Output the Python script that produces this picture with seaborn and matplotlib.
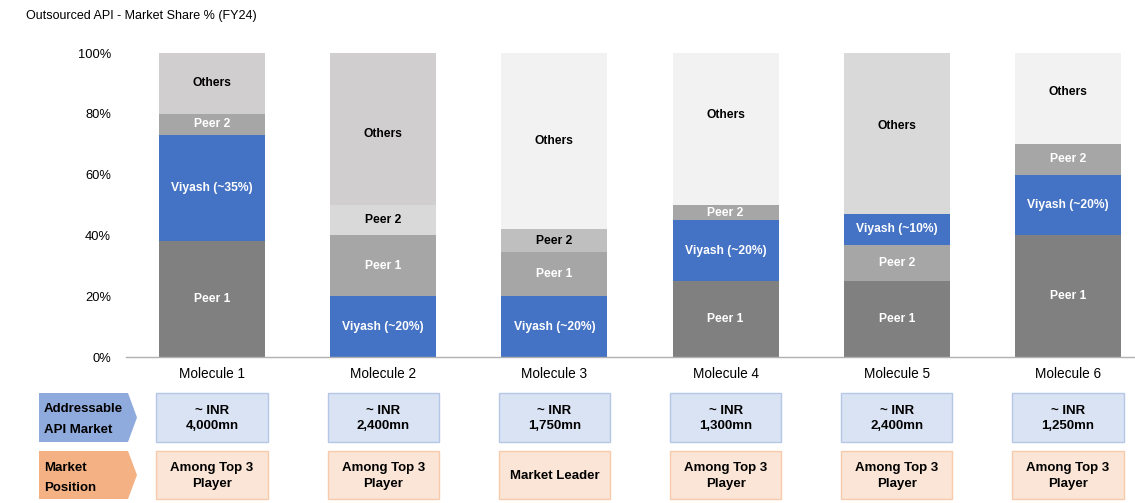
import numpy as np
import pandas as pd
import matplotlib
matplotlib.use("Agg")
import matplotlib.pyplot as plt
from matplotlib.patches import Polygon, Rectangle
import matplotlib.transforms as mtransforms
import seaborn as sns

# ---------------- data ----------------
molecules = ["Molecule 1", "Molecule 2", "Molecule 3", "Molecule 4", "Molecule 5", "Molecule 6"]
peer1 = [38, 20, 14.5, 25, 25, 40]
viyash = [35, 20, 20, 20, 10, 20]
peer2 = [7, 10, 7.5, 5, 12, 10]
others = [20, 50, 58, 50, 53, 30]

# stacking order (bottom -> top) for each molecule
stack_order = [
    ["Peer 1", "Viyash", "Peer 2", "Others"],
    ["Viyash", "Peer 1", "Peer 2", "Others"],
    ["Viyash", "Peer 1", "Peer 2", "Others"],
    ["Peer 1", "Viyash", "Peer 2", "Others"],
    ["Peer 1", "Peer 2", "Viyash", "Others"],
    ["Peer 1", "Viyash", "Peer 2", "Others"],
]

market_size = ["~ INR\n4,000mn", "~ INR\n2,400mn", "~ INR\n1,750mn",
               "~ INR\n1,300mn", "~ INR\n2,400mn", "~ INR\n1,250mn"]
market_position = ["Among Top 3\nPlayer", "Among Top 3\nPlayer", "Market Leader",
                   "Among Top 3\nPlayer", "Among Top 3\nPlayer", "Among Top 3\nPlayer"]

title = "Outsourced API - Market Share % (FY24)"
row_labels = ["Addressable\nAPI Market", "Market\nPosition"]

# ---------------- styles ----------------
BLUE = "#4472c4"
seg_colors = {
    "Peer 1": ["#808080", "#a6a6a6", "#a6a6a6", "#808080", "#808080", "#808080"],
    "Viyash": [BLUE] * 6,
    "Peer 2": ["#a6a6a6", "#d9d9d9", "#bfbfbf", "#a6a6a6", "#a6a6a6", "#a6a6a6"],
    "Others": ["#d0cece", "#d0cece", "#f2f2f2", "#f2f2f2", "#d9d9d9", "#f2f2f2"],
}
dark = {"#808080", "#a6a6a6", BLUE}
# vertical placement of the "Others" label within its segment (0=bottom, 1=top)
others_label_frac = [0.5, 0.47, 0.5, 0.59, 0.55, 0.57]

values = {"Peer 1": peer1, "Viyash": viyash, "Peer 2": peer2, "Others": others}

rows = []
for i, m in enumerate(molecules):
    bottom = 0.0
    for layer, seg in enumerate(stack_order[i]):
        v = values[seg][i]
        rows.append(dict(molecule=m, idx=i, layer=layer, segment=seg, value=v,
                         bottom=bottom, top=bottom + v, color=seg_colors[seg][i]))
        bottom += v
df = pd.DataFrame(rows)

# ---------------- figure ----------------
W, H = 1135, 503
sns.set_theme(style="white")
plt.rcParams["font.family"] = ["Liberation Sans", "DejaVu Sans"]
fig = plt.figure(figsize=(W / 100, H / 100), dpi=100)

ax_left, ax_right, ax_top, ax_bot = 126.4, 1135, 53, 357
ax = fig.add_axes([ax_left / W, 1 - ax_bot / H, (ax_right - ax_left) / W, (ax_bot - ax_top) / H])

bar_w = 0.62
for layer in sorted(df["layer"].unique(), reverse=True):
    d = df[df["layer"] == layer]
    sns.barplot(data=d, x="molecule", y="top", hue="molecule", order=molecules,
                hue_order=molecules, palette=list(d["color"]), legend=False,
                width=bar_w, saturation=1, ax=ax, linewidth=0)

# segment labels
for _, r in df.iterrows():
    seg = r["segment"]
    label = f"Viyash (~{r['value']:.0f}%)" if seg == "Viyash" else seg
    tc = "white" if r["color"] in dark else "black"
    frac = others_label_frac[r["idx"]] if seg == "Others" else 0.5
    ax.text(r["idx"], r["bottom"] + frac * r["value"], label, ha="center", va="center",
            fontsize=8.7, fontweight="bold", color=tc)

px_per_unit = 171.2
ax.set_xlim(-0.5, -0.5 + (ax_right - ax_left) / px_per_unit)
ax.set_ylim(0, 100)
ax.set_yticks([0, 20, 40, 60, 80, 100])
ax.set_yticklabels([f"{t}%" for t in [0, 20, 40, 60, 80, 100]])
ax.set_xlabel("")
ax.set_ylabel("")
ax.tick_params(axis="y", length=0, pad=11, labelsize=9.3, labelcolor="black")
ax.tick_params(axis="x", length=0, pad=7, labelsize=9.8, labelcolor="black")
for s in ["top", "right", "left"]:
    ax.spines[s].set_visible(False)
ax.spines["bottom"].set_color("#b0b0b0")
ax.spines["bottom"].set_linewidth(1)
ax.grid(False)

fig.text(26 / W, 1 - 16 / H, title, ha="left", va="center", fontsize=9, color="black")

# ---------------- bottom table ----------------
blend = mtransforms.blended_transform_factory(ax.transData, fig.transFigure)
fy = lambda py: 1 - py / H
fx = lambda px: px / W

row_spans = [(393, 442), (451, 499)]
hdr_fill = ["#8faadc", "#f4b183"]
box_fill = ["#dae3f3", "#fbe5d6"]
box_edge = ["#b4c7e7", "#f8cbad"]
row_texts = [market_size, market_position]
label_shift = [2, 3]
box_w = 0.65

for ri, (y0, y1) in enumerate(row_spans):
    ym = (y0 + y1) / 2
    poly = Polygon([(fx(39), fy(y0)), (fx(128), fy(y0)), (fx(137), fy(ym)),
                    (fx(128), fy(y1)), (fx(39), fy(y1))], closed=True,
                   transform=fig.transFigure, facecolor=hdr_fill[ri], edgecolor="none")
    fig.patches.append(poly)
    fig.text(fx(44), fy(ym + label_shift[ri]), row_labels[ri], ha="left", va="center",
             fontsize=9.5, fontweight="bold", color="black", linespacing=1.9)
    for i in range(len(molecules)):
        rect = Rectangle((i - box_w / 2, fy(y1)), box_w, (y1 - y0) / H, transform=blend,
                         facecolor=box_fill[ri], edgecolor=box_edge[ri], linewidth=1,
                         clip_on=False)
        fig.patches.append(rect)
        fig.text(i, fy(ym + 1), row_texts[ri][i], transform=blend, ha="center", va="center",
                 fontsize=9.5, fontweight="bold", color="black", linespacing=1.35)

fig.savefig("out.png", dpi=100)
